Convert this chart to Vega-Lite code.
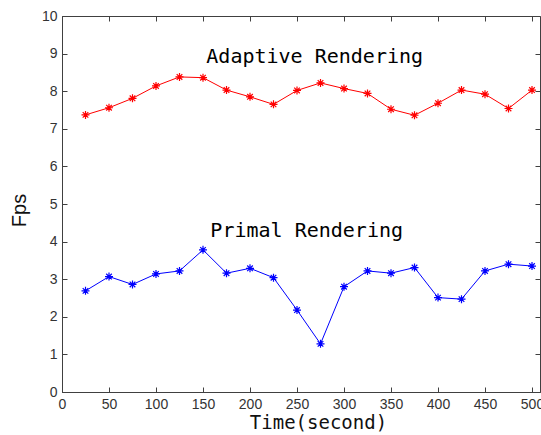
{
  "$schema": "https://vega.github.io/schema/vega-lite/v6.json",
  "width": 478,
  "height": 376,
  "autosize": {"type": "none"},
  "padding": {"left": 62, "top": 16, "right": 1, "bottom": 43},
  "background": "white",
  "config": {
    "view": {"stroke": "#404040", "strokeWidth": 1},
    "axis": {
      "grid": false,
      "domainColor": "#404040",
      "tickColor": "#404040",
      "labelColor": "#333333",
      "labelFont": "Liberation Sans",
      "labelFontSize": 14,
      "titleFontWeight": "normal",
      "titleColor": "#111111"
    }
  },
  "datasets": {
    "pts": [
      {"t": 25, "fps": 7.37, "series": "Adaptive"},
      {"t": 50, "fps": 7.56, "series": "Adaptive"},
      {"t": 75, "fps": 7.81, "series": "Adaptive"},
      {"t": 100, "fps": 8.14, "series": "Adaptive"},
      {"t": 125, "fps": 8.38, "series": "Adaptive"},
      {"t": 150, "fps": 8.36, "series": "Adaptive"},
      {"t": 175, "fps": 8.03, "series": "Adaptive"},
      {"t": 200, "fps": 7.85, "series": "Adaptive"},
      {"t": 225, "fps": 7.65, "series": "Adaptive"},
      {"t": 250, "fps": 8.02, "series": "Adaptive"},
      {"t": 275, "fps": 8.22, "series": "Adaptive"},
      {"t": 300, "fps": 8.07, "series": "Adaptive"},
      {"t": 325, "fps": 7.94, "series": "Adaptive"},
      {"t": 350, "fps": 7.52, "series": "Adaptive"},
      {"t": 375, "fps": 7.36, "series": "Adaptive"},
      {"t": 400, "fps": 7.68, "series": "Adaptive"},
      {"t": 425, "fps": 8.03, "series": "Adaptive"},
      {"t": 450, "fps": 7.92, "series": "Adaptive"},
      {"t": 475, "fps": 7.54, "series": "Adaptive"},
      {"t": 500, "fps": 8.03, "series": "Adaptive"},
      {"t": 25, "fps": 2.69, "series": "Primal"},
      {"t": 50, "fps": 3.07, "series": "Primal"},
      {"t": 75, "fps": 2.86, "series": "Primal"},
      {"t": 100, "fps": 3.14, "series": "Primal"},
      {"t": 125, "fps": 3.22, "series": "Primal"},
      {"t": 150, "fps": 3.78, "series": "Primal"},
      {"t": 175, "fps": 3.16, "series": "Primal"},
      {"t": 200, "fps": 3.29, "series": "Primal"},
      {"t": 225, "fps": 3.04, "series": "Primal"},
      {"t": 250, "fps": 2.18, "series": "Primal"},
      {"t": 275, "fps": 1.28, "series": "Primal"},
      {"t": 300, "fps": 2.80, "series": "Primal"},
      {"t": 325, "fps": 3.22, "series": "Primal"},
      {"t": 350, "fps": 3.16, "series": "Primal"},
      {"t": 375, "fps": 3.31, "series": "Primal"},
      {"t": 400, "fps": 2.51, "series": "Primal"},
      {"t": 425, "fps": 2.47, "series": "Primal"},
      {"t": 450, "fps": 3.22, "series": "Primal"},
      {"t": 475, "fps": 3.40, "series": "Primal"},
      {"t": 500, "fps": 3.35, "series": "Primal"}
    ],
    "labels": [
      {"t": 268.8, "fps": 8.91, "label": "Adaptive Rendering"},
      {"t": 260.3, "fps": 4.28, "label": "Primal Rendering"}
    ]
  },
  "resolve": {"axis": {"x": "independent", "y": "independent"}},
  "layer": [
    {
      "data": {"name": "pts"},
      "mark": {"type": "line", "strokeWidth": 1, "clip": true},
      "encoding": {
        "x": {"field": "t", "type": "quantitative",
              "scale": {"domain": [0, 508.5], "nice": false, "zero": false},
              "axis": {"orient": "bottom", "values": [0,50,100,150,200,250,300,350,400,450,500],
                       "tickSize": -5, "labelPadding": 10, "title": "Time(second)",
                       "titleFont": "DejaVu Sans Mono", "titleFontSize": 19, "titlePadding": 2,
                       "titleX": 256, "titleAnchor": "middle", "labelFlush": false}},
        "y": {"field": "fps", "type": "quantitative",
              "scale": {"domain": [0, 10], "nice": false},
              "axis": {"orient": "left", "values": [0,1,2,3,4,5,6,7,8,9,10],
                       "tickSize": -5, "labelPadding": 10, "title": "Fps",
                       "titleFont": "Liberation Sans", "titleFontSize": 20,
                       "titleX": -43, "titleY": 194, "titleBaseline": "middle", "titleAlign": "center",
                       "labelFlush": false}},
        "color": {"field": "series", "type": "nominal",
                  "scale": {"domain": ["Adaptive", "Primal"], "range": ["#ff0000", "#0000ff"]},
                  "legend": null}
      }
    },
    {
      "data": {"name": "pts"},
      "mark": {"type": "point", "filled": false, "strokeWidth": 1.2, "size": 64, "opacity": 1,
               "shape": "M-1,0L1,0M0,-1L0,1M-0.7,-0.7L0.7,0.7M-0.7,0.7L0.7,-0.7"},
      "encoding": {
        "x": {"field": "t", "type": "quantitative",
              "axis": {"orient": "top", "values": [0,50,100,150,200,250,300,350,400,450,500],
                       "tickSize": -5, "labels": false, "title": null, "domain": false}},
        "y": {"field": "fps", "type": "quantitative",
              "axis": {"orient": "right", "values": [0,1,2,3,4,5,6,7,8,9,10],
                       "tickSize": -5, "labels": false, "title": null, "domain": false}},
        "color": {"field": "series", "type": "nominal", "legend": null}
      }
    },
    {
      "data": {"name": "labels"},
      "mark": {"type": "text", "font": "DejaVu Sans Mono", "fontSize": 20, "color": "#000000",
               "align": "center", "baseline": "middle"},
      "encoding": {
        "x": {"field": "t", "type": "quantitative", "axis": null},
        "y": {"field": "fps", "type": "quantitative", "axis": null},
        "text": {"field": "label"}
      }
    }
  ]
}
